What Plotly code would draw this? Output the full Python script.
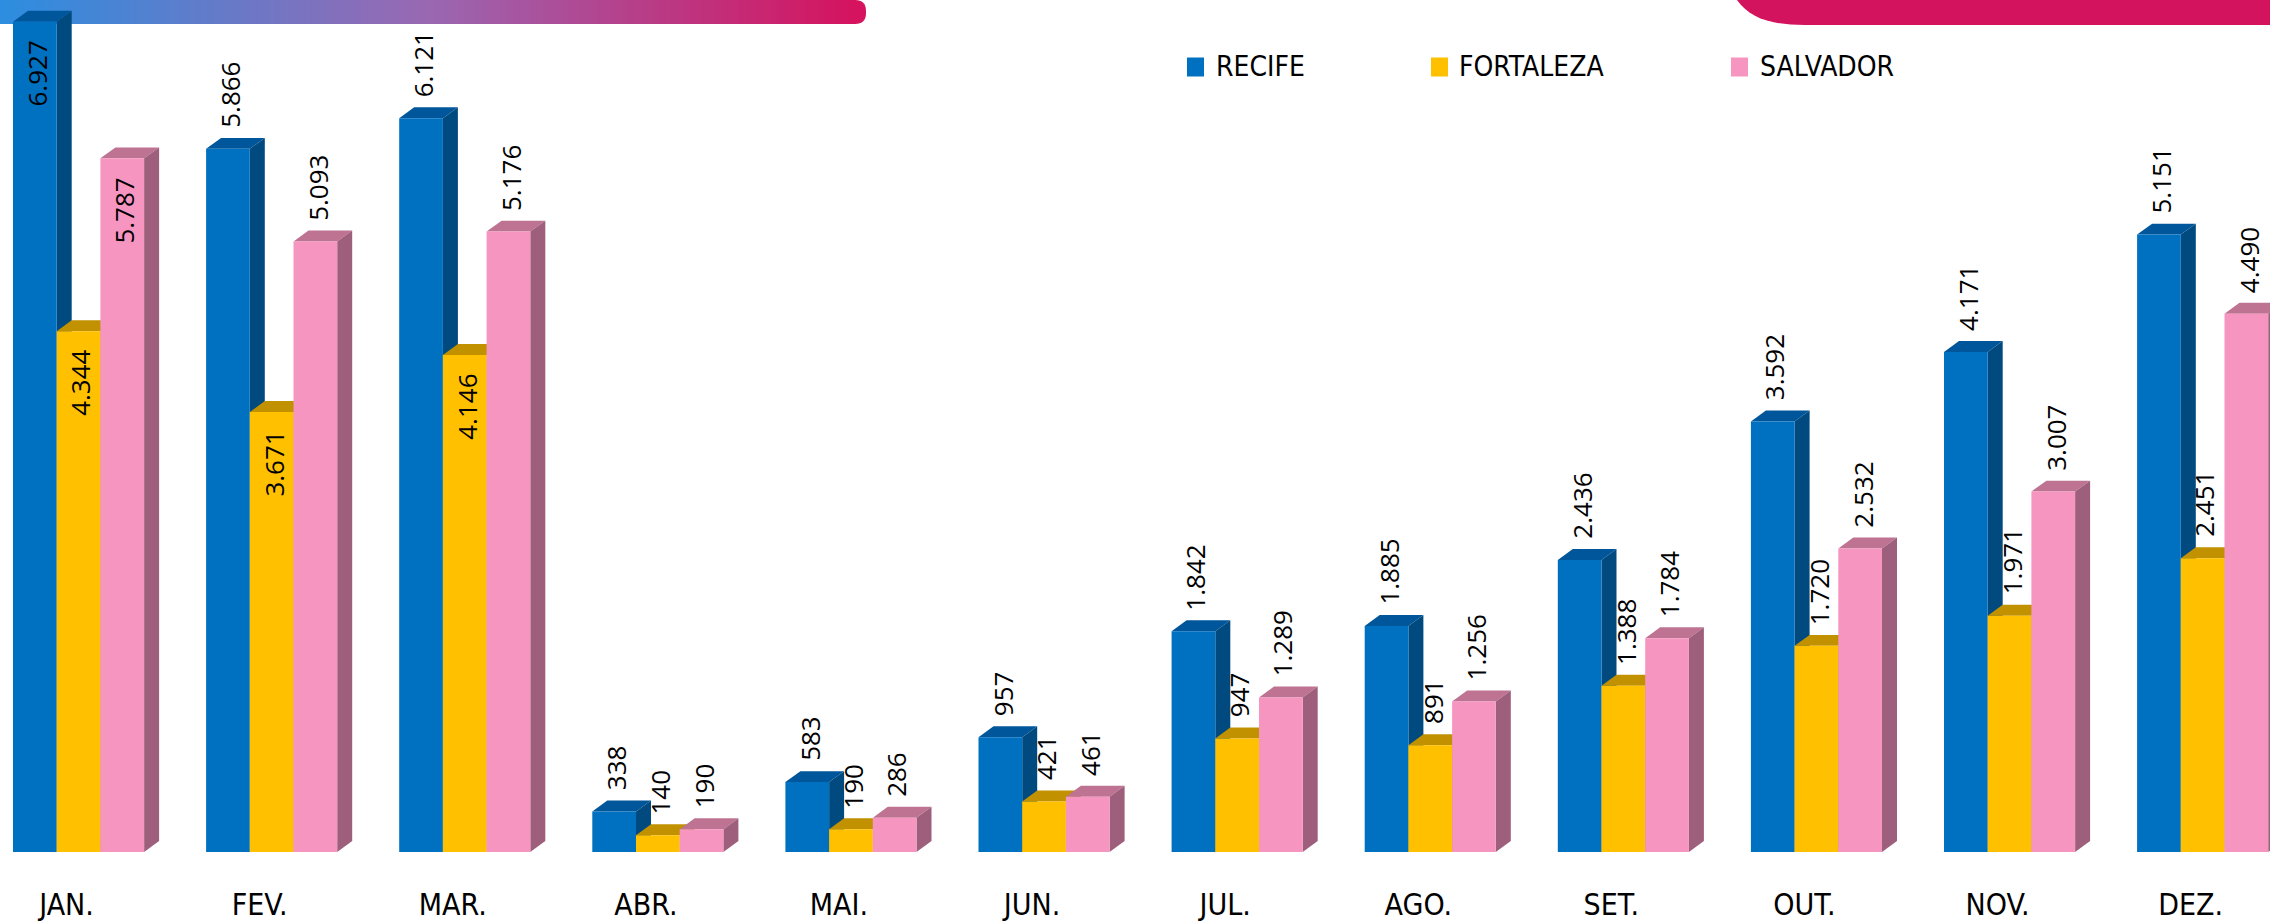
import plotly.graph_objects as go

# ---------------- data ----------------
months = ["JAN.", "FEV.", "MAR.", "ABR.", "MAI.", "JUN.", "JUL.", "AGO.", "SET.", "OUT.", "NOV.", "DEZ."]
recife = [6927, 5866, 6121, 338, 583, 957, 1842, 1885, 2436, 3592, 4171, 5151]
fortaleza = [4344, 3671, 4146, 140, 190, 421, 947, 891, 1388, 1720, 1971, 2451]
salvador = [5787, 5093, 5176, 190, 286, 461, 1289, 1256, 1784, 2532, 3007, 4490]
series_names = ["RECIFE", "FORTALEZA", "SALVADOR"]
# labels drawn inside the bar (top end) instead of above it
inside_labels = {(0, 0), (1, 0), (2, 0), (1, 1), (1, 2)}  # (series, month)

# ---------------- layout constants ----------------
W, H = 2270, 922
PLOT_H = 857            # plot bottom in px (top margin 0)
MONTH_PX = 193.1
BAR_PX = 43.7
FIRST_LEFT_PX = 13
PX_PER_UNIT = 0.12057
DEPTH_X_PX, DEPTH_Y_PX = 15, 11

bw = BAR_PX / MONTH_PX
xmin = -1.5 * bw - FIRST_LEFT_PX / MONTH_PX
xmax = xmin + W / MONTH_PX
ymax = PLOT_H / PX_PER_UNIT
DX = DEPTH_X_PX / MONTH_PX
DY = DEPTH_Y_PX / PX_PER_UNIT

front = ["#0070C0", "#FFC000", "#F795C1"]
topc = ["#00569A", "#C29100", "#BD7391"]
sidec = ["#004A80", "#A27A00", "#9E5F7C"]

FONT_NARROW = "Liberation Sans Narrow, Arial Narrow, DejaVu Sans Condensed, Liberation Sans, sans-serif"
FONT_LABEL = "Open Sans, Noto Sans, sans-serif"

xs = list(range(len(months)))
all_vals = [recife, fortaleza, salvador]

fig = go.Figure()
for k, (name, vals) in enumerate(zip(series_names, all_vals)):
    fig.add_trace(go.Bar(
        x=xs, y=vals, name=name, width=bw, offset=(-1.5 + k) * bw,
        marker=dict(color=front[k], line=dict(width=0)),
        showlegend=False, hoverinfo="x+y+name",
    ))

shapes = []

# top-left gradient band
def lerp(c1, c2, t):
    a = [int(c1[i:i + 2], 16) for i in (1, 3, 5)]
    b = [int(c2[i:i + 2], 16) for i in (1, 3, 5)]
    return "rgb(%d,%d,%d)" % tuple(round(a[j] + (b[j] - a[j]) * t) for j in range(3))

stops = [(0.0, "#2C8EE0"), (0.5, "#9A68B2"), (1.0, "#D5135F")]
def grad(t):
    for (t0, c0), (t1, c1) in zip(stops[:-1], stops[1:]):
        if t <= t1:
            return lerp(c0, c1, (t - t0) / (t1 - t0))
    return stops[-1][1]

BAND_END, BAND_H, R = 866, 24, 11
N = 140
seg = (BAND_END - R) / N
for i in range(N):
    shapes.append(dict(type="rect", layer="below", xref="paper", yref="paper",
                       xsizemode="pixel", ysizemode="pixel", xanchor=0, yanchor=1,
                       x0=i * seg, x1=(i + 1) * seg + 1, y0=0, y1=-BAND_H,
                       line=dict(width=0), fillcolor=grad((i + 0.5) / N)))
e0 = BAND_END - R
shapes.append(dict(type="path", layer="below", xref="paper", yref="paper",
                   xsizemode="pixel", ysizemode="pixel", xanchor=0, yanchor=1,
                   path=f"M {e0-1},0 L {e0},0 Q {BAND_END},0 {BAND_END},{-R} L {BAND_END},{-BAND_H+R} "
                        f"Q {BAND_END},{-BAND_H} {e0},{-BAND_H} L {e0-1},{-BAND_H} Z",
                   line=dict(width=0), fillcolor="#D5135F"))
# top-right magenta tab
shapes.append(dict(type="path", layer="below", xref="paper", yref="paper",
                   xsizemode="pixel", ysizemode="pixel", xanchor=0, yanchor=1,
                   path="M 1737,0 L 2275,0 L 2275,-25 L 1805,-25 C 1770,-25 1750,-18 1737,0 Z",
                   line=dict(width=0), fillcolor="#D4135F"))

# 3D faces (below the bar traces, drawn in depth order)
for i in xs:
    for k, vals in enumerate(all_vals):
        v = vals[i]
        x0 = i + (-1.5 + k) * bw
        x1 = x0 + bw
        shapes.append(dict(type="path", layer="below", xref="x", yref="y",
                           path=f"M {x0},{v} L {x1},{v} L {x1+DX},{v+DY} L {x0+DX},{v+DY} Z",
                           line=dict(width=0), fillcolor=topc[k]))
        shapes.append(dict(type="path", layer="below", xref="x", yref="y",
                           path=f"M {x1},0 L {x1},{v} L {x1+DX},{v+DY} L {x1+DX},{DY} Z",
                           line=dict(width=0), fillcolor=sidec[k]))

# legend (custom)
legend_sq = [1187, 1431, 1731]
legend_tx = [1214, 1457, 1758]
LEG_Y = 67
annotations = []
for k, name in enumerate(series_names):
    shapes.append(dict(type="rect", layer="above", xref="paper", yref="paper",
                       xsizemode="pixel", ysizemode="pixel", xanchor=0, yanchor=1,
                       x0=legend_sq[k], x1=legend_sq[k] + 17, y0=-LEG_Y + 9.5, y1=-LEG_Y - 9.5,
                       line=dict(width=0), fillcolor=front[k]))
    annotations.append(dict(xref="paper", yref="paper", x=legend_tx[k] / W, y=1 - LEG_Y / PLOT_H,
                            xanchor="left", yanchor="middle", text=name, showarrow=False,
                            font=dict(family=FONT_NARROW, size=28, color="#000000")))

# data labels
def fmt(v):
    return f"{v:,}".replace(",", ".")

for k, vals in enumerate(all_vals):
    for i, v in enumerate(vals):
        xc = i + (-1.0 + k) * bw
        if (k, i) in inside_labels:
            annotations.append(dict(x=xc, y=v, xref="x", yref="y", text=fmt(v), showarrow=False,
                                    textangle=-90, xanchor="center", yanchor="top", yshift=-17, xshift=2,
                                    font=dict(family=FONT_LABEL, size=26, color="#000000")))
        else:
            annotations.append(dict(x=xc, y=v, xref="x", yref="y", text=fmt(v), showarrow=False,
                                    textangle=-90, xanchor="center", yanchor="bottom", yshift=19, xshift=2,
                                    font=dict(family=FONT_LABEL, size=26, color="#000000")))

fig.update_layout(
    width=W, height=H,
    margin=dict(l=0, r=0, t=0, b=H - PLOT_H, pad=0),
    paper_bgcolor="white", plot_bgcolor="rgba(0,0,0,0)",
    barmode="overlay",
    shapes=shapes, annotations=annotations,
    xaxis=dict(range=[xmin, xmax], tickmode="array", tickvals=xs, ticktext=months,
               showgrid=False, zeroline=False, showline=False, ticks="",
               tickfont=dict(family=FONT_NARROW, size=30, color="#000000"),
               ticklabelstandoff=32, ticklabelshift=-12, fixedrange=True),
    yaxis=dict(range=[0, ymax], visible=False, showgrid=False, zeroline=False, fixedrange=True),
    showlegend=False,
)

fig.write_html("out.html", config={"displayModeBar": False},
               post_script="document.body.style.margin='0';document.body.style.overflow='hidden';")
